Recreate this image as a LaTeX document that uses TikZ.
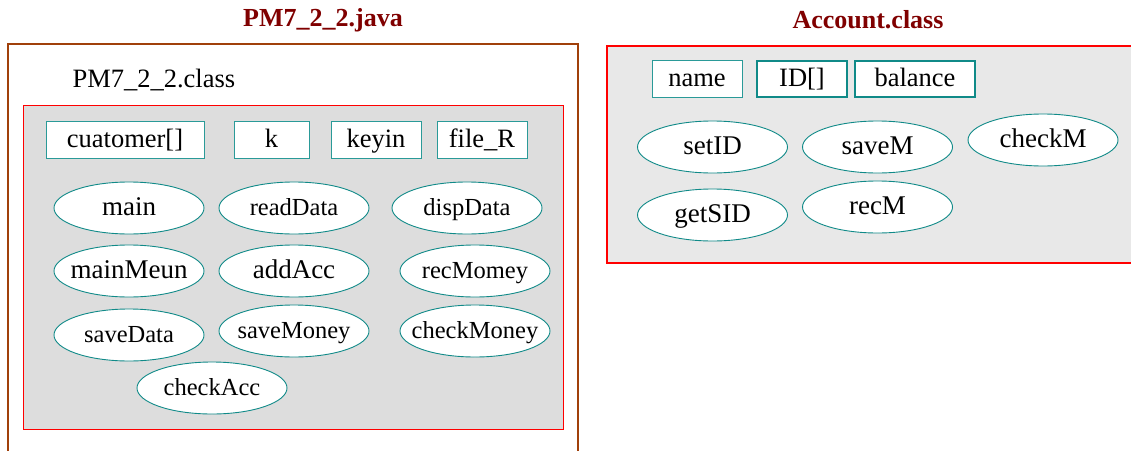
\documentclass[tikz,border=0pt]{standalone}
\usepackage{fontspec}
\setmainfont{Liberation Serif}
\usetikzlibrary{shapes.geometric}
\definecolor{titlered}{HTML}{800000}
\definecolor{filebrown}{HTML}{A0400A}
\definecolor{teal}{HTML}{108A88}
\definecolor{lightteal}{HTML}{2A9A98}
\definecolor{panelgray}{HTML}{DDDDDD}
\definecolor{panellight}{HTML}{E8E8E8}
\tikzset{
  title/.style={font=\fontsize{26}{30}\selectfont\bfseries, text=titlered},
  field/.style={draw=lightteal, line width=0.9pt, fill=white, inner sep=0pt,
    text height=18pt, text depth=3pt,
    font=\fontsize{26.5}{30}\selectfont},
  thickfield/.style={field, draw=teal, line width=2.6pt},
  method/.style={ellipse, draw=teal, line width=0.9pt, fill=white,
    minimum width=150pt, minimum height=52pt, inner xsep=-18pt, inner ysep=0pt,
    text height=18pt, text depth=4pt,
    font=\fontsize{24.5}{28}\selectfont},
  bigmethod/.style={method, font=\fontsize{27}{30}\selectfont},
}
\begin{document}
\begin{tikzpicture}[x=1pt, y=-1pt]
\useasboundingbox (0,0) rectangle (1131,450);
\fill[white] (0,0) rectangle (1131,450);

% ---- source file PM7_2_2.java ----
\node[title] (javatitle) at (323,20) {PM7\_2\_2.java};
\draw[filebrown, line width=2pt] (8,455) -- (8,43.5) -- (578,43.5) -- (578,455);
\node[anchor=base west, font=\fontsize{26.5}{30}\selectfont] (mainclass) at (69,87) {PM7\_2\_2.class};
\draw[red, fill=panelgray, line width=1.6pt] (23.5,105.5) -- (563.5,105.5) -- (563.5,429.5) -- (23.5,429.5) -- cycle;

\node[field, minimum width=158pt, minimum height=37pt] (cust) at (125,139.5) {cuatomer[]};
\node[field, minimum width=75pt, minimum height=37pt] (k) at (271.5,139.5) {k};
\node[field, minimum width=90pt, minimum height=37pt] (keyin) at (376,139.5) {keyin};
\node[field, minimum width=90pt, minimum height=37pt] (fileR) at (482,139.5) {file\_R};

\node[bigmethod] (main) at (129,208) {main};
\node[method] (readData) at (294,208) {readData};
\node[method] (dispData) at (467,208) {dispData};
\node[bigmethod] (mainMeun) at (129,271) {mainMeun};
\node[bigmethod] (addAcc) at (294,271) {addAcc};
\node[method] (recMomey) at (475,271) {recMomey};
\node[method] (saveData) at (129,335) {saveData};
\node[method] (saveMoney) at (294,331) {saveMoney};
\node[method] (checkMoney) at (475,331) {checkMoney};
\node[method] (checkAcc) at (212,388) {checkAcc};

% ---- Account.class ----
\node[title] (accttitle) at (868,20) {Account.class};
\draw[red, fill=panellight, line width=1.8pt] (1140,46) -- (607,46) -- (607,263) -- (1140,263);

\node[field, minimum width=90pt, minimum height=37pt] (name) at (697,79) {name};
\node[thickfield, minimum width=90pt, minimum height=36pt] (ID) at (802,79) {ID[]};
\node[thickfield, minimum width=120pt, minimum height=36pt] (balance) at (915,79) {balance};

\node[bigmethod] (setID) at (712.5,147) {setID};
\node[bigmethod] (saveM) at (877.5,147) {saveM};
\node[bigmethod] (checkM) at (1043,140) {checkM};
\node[bigmethod] (getSID) at (712.5,215) {getSID};
\node[bigmethod] (recM) at (877.5,207) {recM};
\end{tikzpicture}
\end{document}
